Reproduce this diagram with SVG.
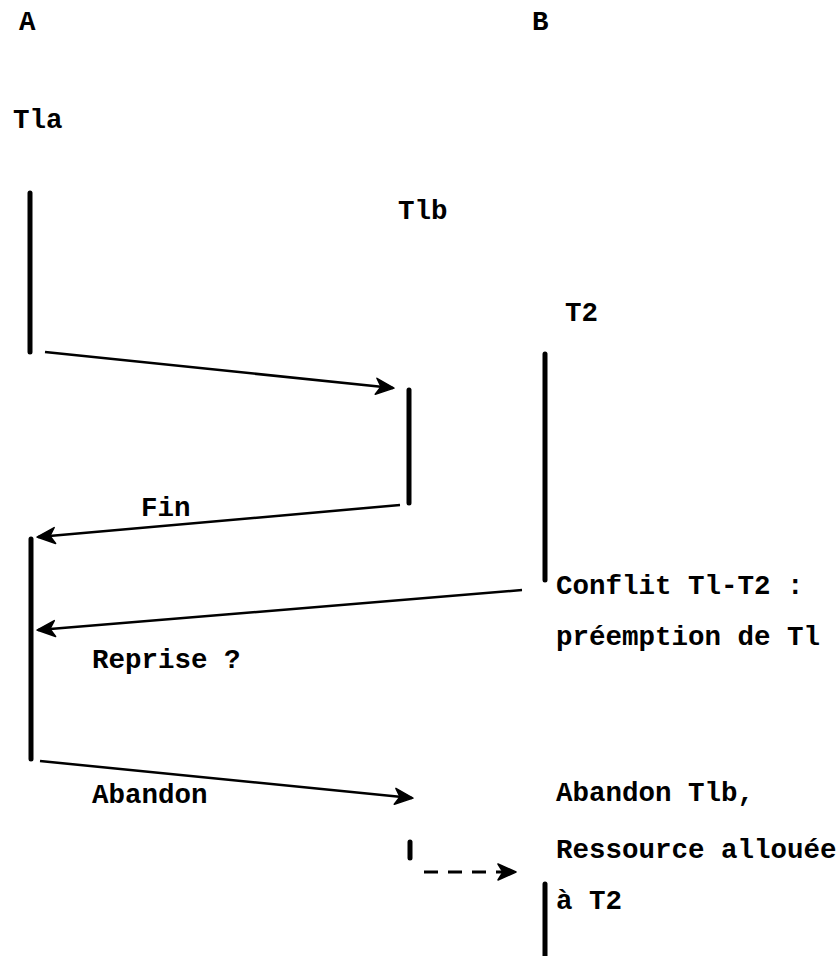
<svg xmlns="http://www.w3.org/2000/svg" width="839" height="956" viewBox="0 0 839 956">
<defs>
<style>
.t{font-family:"Liberation Mono","DejaVu Sans Mono",monospace;font-weight:bold;font-size:27.5px;fill:#000}
.bar{stroke:#000;stroke-width:5;stroke-linecap:round;fill:none}
.ln{stroke:#000;stroke-width:2.5;fill:none}
.dash{stroke:#000;stroke-width:3;fill:none;stroke-dasharray:14 10}
</style>
<marker id="ah" markerUnits="userSpaceOnUse" markerWidth="22" markerHeight="22" viewBox="0 0 22 22" refX="19" refY="11" orient="auto">
<path d="M2,3 L20,11 L2,19 L7,11 z" fill="#000" stroke="#000" stroke-width="1.5" stroke-linejoin="round"/>
</marker>
</defs>
<rect width="839" height="956" fill="#fff"/>
<g id="labels">
<text class="t" x="19" y="30">A</text>
<text class="t" x="532" y="30">B</text>
</g>
<g id="T1a">
<text class="t" x="13" y="128">Tla</text>
<line class="bar" x1="30" y1="193" x2="30" y2="352"/>
</g>
<g id="T1b">
<text class="t" x="398" y="219">Tlb</text>
<line class="bar" x1="409" y1="390" x2="409" y2="503"/>
</g>
<g id="T2">
<text class="t" x="565" y="321">T2</text>
<line class="bar" x1="545" y1="354" x2="545" y2="580"/>
<text class="t" x="556" y="594">Conflit Tl-T2 :</text>
<text class="t" x="556" y="645">préemption de Tl</text>
</g>
<g id="T1a-resume">
<line class="bar" x1="31" y1="539" x2="31" y2="759"/>
</g>
<g id="T1b-abort">
<line class="bar" x1="410" y1="842" x2="410" y2="858"/>
</g>
<g id="T2-resource">
<line class="bar" x1="545" y1="884" x2="545" y2="956"/>
<text class="t" x="556" y="801">Abandon Tlb,</text>
<text class="t" x="556" y="858">Ressource allouée</text>
<text class="t" x="556" y="909">à T2</text>
</g>
<g id="connectors">
<line class="ln" x1="45" y1="352" x2="393" y2="388" marker-end="url(#ah)"/>
<line class="ln" x1="400" y1="505" x2="38" y2="537" marker-end="url(#ah)"/>
<text class="t" x="141" y="516">Fin</text>
<line class="ln" x1="522" y1="590" x2="38" y2="630" marker-end="url(#ah)"/>
<text class="t" x="92" y="668">Reprise ?</text>
<line class="ln" x1="40" y1="761" x2="412" y2="798" marker-end="url(#ah)"/>
<text class="t" x="92" y="803">Abandon</text>
<line class="dash" x1="424" y1="872" x2="515" y2="872" marker-end="url(#ah)"/>
</g>
</svg>
